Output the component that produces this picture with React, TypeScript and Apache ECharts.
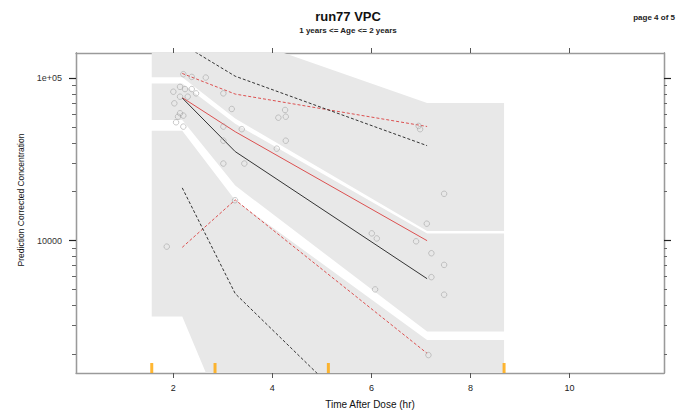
import React, { useEffect, useRef } from "react";
import * as echarts from "echarts";

const titleText = "run77 VPC";
const subtitleText = "1 years <= Age <= 2 years";
const pageText = "page 4 of 5";
const xAxisName = "Time After Dose (hr)";
const yAxisName = "Prediction Corrected Concentration";

const xTicks = [2, 4, 6, 8, 10];
const yMajorTicks = [10000, 100000];
const yMajorLabels = ["10000", "1e+05"];
const yMinorTicks = [
  2000, 3000, 4000, 5000, 6000, 7000, 8000, 9000,
  20000, 30000, 40000, 50000, 60000, 70000, 80000, 90000,
];

// Bin boundaries (rug marks)
const binEdges = [1.564, 2.842, 5.131, 8.68];

// Percentile lines (bin midpoints)
const lineX = [2.18, 3.25, 7.125];
const obsMedian = [75900, 46800, 9980];
const obsP95 = [106900, 79800, 50400];
const obsP05 = [9080, 17800, 2020];
const simMedian = [75500, 35300, 5820];
const simP95 = [162000, 102800, 38400];
const simP05 = [21100, 4710, 333];

// Prediction interval bands
const bandX = [1.564, 2.18, 3.25, 7.125, 8.68];
const upperBandLo = [101400, 101400, 56500, 11430, 11430];
const upperBandHi = [230000, 230000, 182000, 70300, 70300];
const medianBandLo = [55300, 55300, 21800, 2750, 2750];
const medianBandHi = [92800, 92800, 52400, 11040, 11040];
const lowerBandLo = [3400, 3400, 569, 300, 300];
const lowerBandHi = [47400, 47400, 17700, 2440, 2440];

// Observations
const obsTime = [
  2.655, 2.372, 2.202, 2.135, 2.236, 2.372, 2.0, 2.459, 2.135, 2.291,
  2.02, 2.135, 2.202, 2.095, 2.055, 2.202, 3.01, 3.18, 3.01, 3.382,
  3.01, 3.434, 3.01, 3.246, 1.867, 4.257, 4.271, 4.121, 4.271, 4.089,
  6.984, 6.954, 7.469, 7.119, 6.008, 6.109, 6.903, 7.212, 7.469, 7.212,
  7.469, 6.075, 7.152,
];
const obsConc = [
  100900, 101800, 105800, 88400, 85700, 85700, 82500, 80600, 76900, 76900,
  70000, 60800, 58800, 57900, 53500, 50300, 80600, 64600, 50300, 48500,
  41200, 29800, 29800, 17700, 9170, 63700, 57900, 57100, 41200, 36800,
  48500, 50800, 19400, 12700, 11070, 10300, 9890, 8350, 7080, 5950,
  4640, 5000, 1970,
];

const X_MIN = 0.034;
const X_MAX = 11.91;
const Y_MIN = 1528;
const Y_MAX = 142900;

const lg = (v: number) => Math.log10(v);
const FONT = "'Liberation Sans', Arial, Helvetica, sans-serif";
const FRAME = "#9a9a9a";

export default function App() {
  const ref = useRef<HTMLDivElement>(null);

  useEffect(() => {
    if (!ref.current) return;
    const chart = echarts.init(ref.current, undefined, { renderer: "svg" });

    const bands = [
      { lo: upperBandLo, hi: upperBandHi },
      { lo: medianBandLo, hi: medianBandHi },
      { lo: lowerBandLo, hi: lowerBandHi },
    ];

    const lineSeries = (
      name: string,
      vals: number[],
      color: string,
      dashed: boolean
    ) => ({
      name,
      type: "line",
      data: lineX.map((x, i) => [x, lg(vals[i])]),
      showSymbol: false,
      symbol: "none",
      clip: true,
      lineStyle: {
        color,
        width: 1,
        type: dashed ? [3, 2] : "solid",
      },
      z: 3,
      silent: true,
    });

    const yBase = {
      type: "value",
      min: lg(Y_MIN),
      max: lg(Y_MAX),
      splitLine: { show: false },
      axisLine: { show: true, lineStyle: { color: FRAME, width: 1.3 } },
    };

    const option: any = {
      animation: false,
      backgroundColor: "#ffffff",
      textStyle: { fontFamily: FONT },
      title: [
        {
          text: titleText,
          left: "center",
          top: 5,
          textStyle: { fontSize: 13, fontWeight: "bold", color: "#111", fontFamily: FONT },
        },
        {
          text: subtitleText,
          left: "center",
          top: 21,
          textStyle: { fontSize: 8, fontWeight: "bold", color: "#222", fontFamily: FONT },
        },
        {
          text: pageText,
          right: 16,
          top: 8,
          textStyle: { fontSize: 8, fontWeight: "bold", color: "#222", fontFamily: FONT },
        },
      ],
      grid: { left: 76, right: 32, top: 53, bottom: 38, containLabel: false },
      xAxis: [
        {
          type: "value",
          position: "bottom",
          min: X_MIN,
          max: X_MAX,
          splitLine: { show: false },
          axisLine: { show: true, lineStyle: { color: FRAME, width: 1.3 } },
          axisTick: { show: true, customValues: xTicks, length: 5, lineStyle: { color: "#555" } },
          axisLabel: {
            show: true,
            customValues: xTicks,
            fontSize: 9,
            color: "#222",
            margin: 10,
            fontFamily: FONT,
          },
          name: xAxisName,
          nameLocation: "middle",
          nameGap: 26,
          nameTextStyle: { fontSize: 10, color: "#111", fontFamily: FONT },
        },
        {
          type: "value",
          position: "top",
          min: X_MIN,
          max: X_MAX,
          splitLine: { show: false },
          axisLine: { show: true, lineStyle: { color: FRAME, width: 1.3 } },
          axisTick: { show: true, customValues: xTicks, length: 5, lineStyle: { color: "#555" } },
          axisLabel: { show: false },
        },
      ],
      yAxis: [
        {
          ...yBase,
          position: "left",
          axisTick: {
            show: true,
            customValues: yMinorTicks.map(lg),
            length: 4,
            lineStyle: { color: "#666" },
          },
          axisLabel: {
            show: true,
            customValues: yMajorTicks.map(lg),
            formatter: (v: number) => {
              const i = yMajorTicks.findIndex((t) => Math.abs(lg(t) - v) < 1e-6);
              return i >= 0 ? yMajorLabels[i] : "";
            },
            fontSize: 9,
            color: "#333",
            margin: 14,
            fontFamily: FONT,
          },
          name: yAxisName,
          nameLocation: "middle",
          nameGap: 51,
          nameTextStyle: { fontSize: 8.5, color: "#111", fontFamily: FONT, padding: [0, 0, 0, 26] },
        },
        {
          ...yBase,
          position: "left",
          axisTick: {
            show: true,
            customValues: yMajorTicks.map(lg),
            length: 7,
            lineStyle: { color: "#222", width: 1.2 },
          },
          axisLabel: { show: false },
        },
        {
          ...yBase,
          position: "right",
          axisTick: {
            show: true,
            customValues: yMinorTicks.map(lg),
            length: 3,
            lineStyle: { color: "#666" },
          },
          axisLabel: { show: false },
        },
        {
          ...yBase,
          position: "right",
          axisTick: {
            show: true,
            customValues: yMajorTicks.map(lg),
            length: 7,
            lineStyle: { color: "#222", width: 1.2 },
          },
          axisLabel: { show: false },
        },
      ],
      series: [
        {
          type: "custom",
          name: "PI bands",
          clip: true,
          silent: true,
          xAxisIndex: 0,
          yAxisIndex: 0,
          data: bands.map(() => [5, 4]),
          renderItem: (params: any, api: any) => {
            const b = bands[params.dataIndex];
            const pts: number[][] = [];
            for (let i = 0; i < bandX.length; i++) pts.push(api.coord([bandX[i], lg(b.hi[i])]));
            for (let i = bandX.length - 1; i >= 0; i--) pts.push(api.coord([bandX[i], lg(b.lo[i])]));
            return {
              type: "polygon",
              shape: { points: pts },
              style: { fill: "#e8e8e8", stroke: null },
            };
          },
          z: 1,
        },
        lineSeries("Obs median", obsMedian, "#dc5050", false),
        lineSeries("Obs 95th", obsP95, "#dc5050", true),
        lineSeries("Obs 5th", obsP05, "#dc5050", true),
        lineSeries("Sim median", simMedian, "#333333", false),
        lineSeries("Sim 95th", simP95, "#333333", true),
        lineSeries("Sim 5th", simP05, "#333333", true),
        {
          type: "scatter",
          name: "Observations",
          data: obsTime.map((x, i) => [x, lg(obsConc[i])]),
          symbol: "circle",
          symbolSize: 5.5,
          itemStyle: { color: "rgba(0,0,0,0)", borderColor: "#a0a0a0", borderWidth: 0.7 },
          z: 4,
          silent: true,
        },
        {
          type: "scatter",
          name: "Bins",
          data: binEdges.map((x) => [x, lg(Y_MIN)]),
          symbol: "rect",
          symbolSize: [3, 10],
          symbolOffset: [0, -5],
          itemStyle: { color: "#ffa500" },
          clip: false,
          z: 5,
          silent: true,
        },
      ],
    };

    chart.setOption(option);
    return () => chart.dispose();
  }, []);

  return (
    <div
      ref={ref}
      style={{ position: "absolute", left: 0, top: 0, width: 696, height: 414 }}
    />
  );
}
